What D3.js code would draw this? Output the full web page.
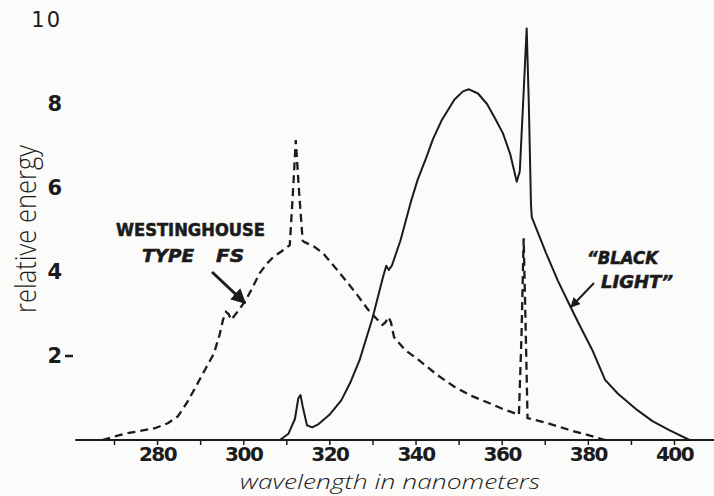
<!DOCTYPE html>
<meta charset="utf-8">
<head>
<style>
  body { margin: 0; background: #fbfbfa; }
  svg { display: block; }
  .tick line { stroke: #1b1b1b; stroke-width: 1.5; }
  .x.axis text { font-family: 'DejaVu Sans', sans-serif; font-weight: bold; font-size: 20px; letter-spacing: -1.5px; fill: #1b1b1b; }
  .y.axis text { font-family: 'DejaVu Sans', sans-serif; font-weight: bold; font-size: 21px; fill: #1b1b1b; }
  .title { font-family: 'Open Sans', 'DejaVu Sans', sans-serif; font-weight: 300; fill: #1b1b1b; }
  .note { font-family: 'DejaVu Sans', sans-serif; font-weight: bold; fill: #1b1b1b; stroke: #1b1b1b; stroke-width: 0.6; }
</style>
</head>
<body>
<div class="chart"></div>
<script src="https://d3js.org/d3.v7.min.js"></script>
<script>
// ticks / labels
const xTicks = [270, 280, 290, 300, 310, 320, 330, 340, 350, 360, 370, 380, 390, 400];
const xLabels = [280, 300, 320, 340, 360, 380, 400];
const yLabels = [2, 4, 6, 8, 10];

// "black light" lamp (solid line): [wavelength nm, relative energy]
const blackLight = [
  [308.5, 0], [310.5, 0.15], [312, 0.5], [312.8, 1.0], [313.3, 1.07], [313.8, 0.8], [314.8, 0.35],
  [316, 0.3], [317.5, 0.38], [320, 0.6], [322.8, 0.95], [325, 1.4], [327, 1.9], [330, 2.9],
  [332.5, 3.9], [333.2, 4.15], [333.8, 4.05], [334.5, 4.15], [336.5, 4.75], [339, 5.7], [340.5, 6.2],
  [342.4, 6.7], [344, 7.15], [346, 7.6], [349, 8.1], [351, 8.3], [352.4, 8.35], [354.5, 8.25],
  [356.6, 8.0], [358.5, 7.65], [360.3, 7.3], [362, 6.8], [363.5, 6.15], [364.2, 6.4], [365.2, 8.5],
  [365.8, 9.8], [366.3, 8], [366.8, 5.6], [367, 5.3], [370.3, 4.45], [373, 3.8], [375.6, 3.25],
  [378, 2.75], [381, 2.15], [384, 1.43], [387, 1.1], [391.5, 0.71], [395, 0.45], [398.8, 0.24],
  [403.6, 0]
];

// Westinghouse type FS (dashed line)
const westinghouse = [
  [267.3, 0], [270, 0.08], [273, 0.16], [279.5, 0.28], [282.5, 0.4], [284.8, 0.56], [287, 0.9],
  [289, 1.27], [291, 1.65], [293.2, 2.06], [294.5, 2.5], [295.3, 2.86], [296, 3.05], [296.6, 3.0],
  [297.2, 2.86], [299, 3.1], [300.6, 3.33], [302, 3.6], [303.8, 3.97], [305.5, 4.2], [307, 4.36],
  [309, 4.5], [310.8, 4.64], [311.6, 6.0], [312.2, 7.14], [312.9, 6.0], [313.8, 4.75], [314.1, 4.72],
  [316.5, 4.6], [318.5, 4.45], [321, 4.15], [323.8, 3.8], [326.5, 3.45], [329, 3.1], [332.3, 2.74],
  [333, 2.8], [333.7, 2.93], [334.3, 2.8], [335, 2.45], [337.5, 2.15], [340.8, 1.9], [345, 1.55],
  [349, 1.27], [353, 1.05], [356.6, 0.9], [360, 0.75], [364, 0.6], [364.6, 2.5], [365.1, 4.8],
  [365.6, 2.5], [366, 0.52], [370, 0.42], [373.5, 0.31], [377, 0.2], [379.9, 0.12], [384, 0]
];

const width = 714;
const height = 496;

const x = d3.scaleLinear().domain([270, 400]).range([114, 674]);
const y = d3.scaleLinear().domain([0, 10]).range([440, 20]);

const svg = d3.select('.chart')
  .append('svg')
  .attr('width', width)
  .attr('height', height);

// x axis
const xAxis = d3.axisBottom(x)
  .tickValues(xTicks)
  .tickSize(5)
  .tickPadding(2)
  .tickFormat(d => xLabels.includes(d) ? d : '');

const gx = svg.append('g')
  .attr('class', 'x axis')
  .attr('transform', `translate(0, ${y(0)})`)
  .call(xAxis);
gx.select('.domain').remove();
gx.append('line')
  .attr('x1', x(261)).attr('x2', width)
  .attr('stroke', '#1b1b1b').attr('stroke-width', 2);

// y axis: only labels, no line
const gy = svg.append('g')
  .attr('class', 'y axis')
  .attr('transform', 'translate(62, 0)')
  .call(d3.axisLeft(y).tickValues(yLabels).tickSize(0).tickPadding(0));
gy.select('.domain').remove();
gy.selectAll('.tick text')
  .style('font-weight', d => d === 10 ? 'normal' : 'bold')
  .style('letter-spacing', d => d === 10 ? '2px' : null);
gy.append('line')
  .attr('x1', 3).attr('x2', 11)
  .attr('y1', y(2)).attr('y2', y(2))
  .attr('stroke', '#1b1b1b').attr('stroke-width', 2.5);

// axis titles
svg.append('text')
  .attr('class', 'title')
  .attr('x', 390).attr('y', 489)
  .attr('text-anchor', 'middle')
  .style('font-size', '21px')
  .style('font-style', 'italic')
  .attr('textLength', 300)
  .attr('lengthAdjust', 'spacingAndGlyphs')
  .text('wavelength in nanometers');

svg.append('text')
  .attr('class', 'title')
  .attr('transform', 'translate(36, 229) rotate(-90)')
  .attr('text-anchor', 'middle')
  .style('font-size', '29px')
  .attr('textLength', 168)
  .attr('lengthAdjust', 'spacingAndGlyphs')
  .text('relative energy');

// curves
const line = d3.line()
  .x(d => x(d[0]))
  .y(d => y(d[1]));

svg.append('path')
  .datum(westinghouse)
  .attr('d', line)
  .attr('fill', 'none')
  .attr('stroke', '#1b1b1b')
  .attr('stroke-width', 2.3)
  .attr('stroke-dasharray', '8,5');

svg.append('path')
  .datum(blackLight)
  .attr('d', line)
  .attr('fill', 'none')
  .attr('stroke', '#1b1b1b')
  .attr('stroke-width', 2)
  .attr('stroke-linejoin', 'round');

// annotations
const notes = [
  { t: 'WESTINGHOUSE', x: 116, y: 236, w: 149, size: 18, it: false },
  { t: 'TYPE', x: 142, y: 262, w: 52, size: 18, it: true },
  { t: 'FS', x: 216, y: 262, w: 28, size: 18, it: true },
  { t: '\u201CBLACK', x: 587, y: 264, w: 71, size: 18, it: true },
  { t: 'LIGHT\u201D', x: 601, y: 288, w: 72, size: 18, it: true }
];
svg.selectAll('.note').data(notes).enter()
  .append('text')
  .attr('class', 'note')
  .attr('x', d => d.x).attr('y', d => d.y)
  .attr('textLength', d => d.w)
  .attr('lengthAdjust', 'spacingAndGlyphs')
  .style('font-size', d => `${d.size}px`)
  .style('font-style', d => d.it ? 'italic' : 'normal')
  .text(d => d.t);

svg.append('defs').append('marker')
  .attr('id', 'head')
  .attr('viewBox', '0 0 10 10')
  .attr('refX', 9).attr('refY', 5)
  .attr('markerWidth', 5).attr('markerHeight', 5)
  .attr('orient', 'auto')
  .append('path')
  .attr('d', 'M0,0 L10,5 L0,10 Z')
  .attr('fill', '#1b1b1b');

const arrows = [
  { x1: 212, y1: 272, x2: 245, y2: 303, w: 3 },
  { x1: 594, y1: 283, x2: 571, y2: 307, w: 2 }
];
svg.selectAll('.arrow').data(arrows).enter()
  .append('line')
  .attr('class', 'arrow')
  .attr('x1', d => d.x1).attr('y1', d => d.y1)
  .attr('x2', d => d.x2).attr('y2', d => d.y2)
  .attr('stroke', '#1b1b1b')
  .attr('stroke-width', d => d.w)
  .attr('marker-end', 'url(#head)');
</script>
</body>
